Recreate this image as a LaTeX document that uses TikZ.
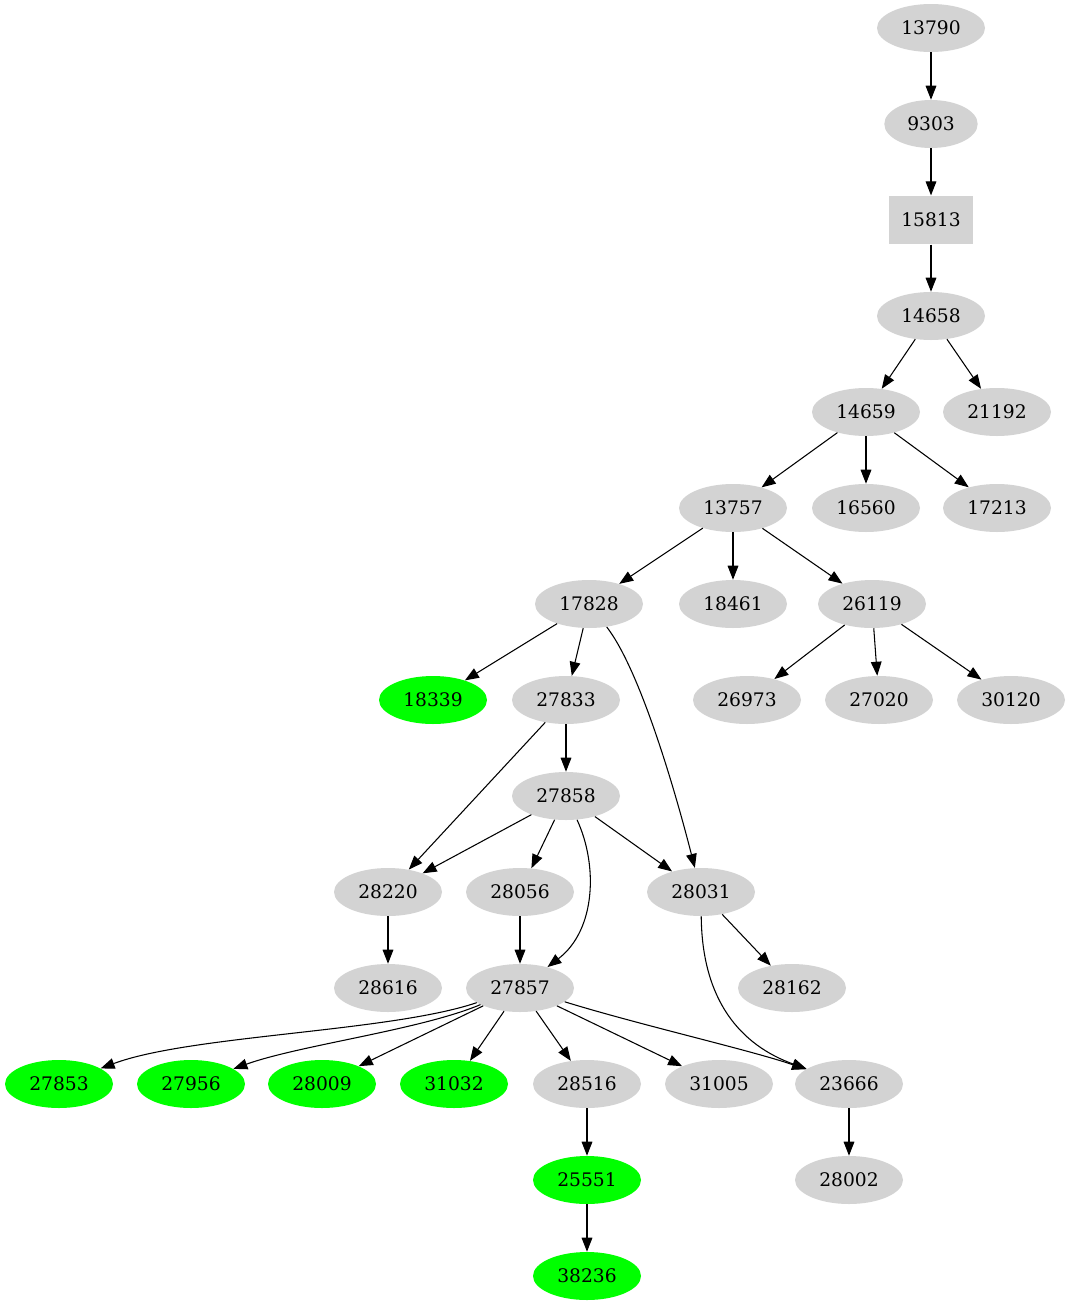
\documentclass[tikz,border=0pt]{standalone}
\usepackage{fontspec}
\setmainfont{DejaVu Serif}
\usetikzlibrary{arrows.meta,shapes.geometric}
\definecolor{nodegray}{HTML}{D3D3D3}
\definecolor{leafgreen}{HTML}{00FF00}
\begin{document}
\begin{tikzpicture}[x=0.75pt,y=-0.75pt,
	gnode/.style={ellipse,fill=nodegray,inner sep=0pt,minimum width=81pt,minimum height=36pt,font=\fontsize{14pt}{16pt}\selectfont},
	leaf/.style={gnode,fill=leafgreen},
	boxnode/.style={rectangle,fill=nodegray,inner sep=0pt,minimum width=63pt,minimum height=36.5pt,font=\fontsize{14pt}{16pt}\selectfont},
	edge/.style={-{Triangle[length=10.5pt,width=8pt]},line width=0.8pt}]
			\useasboundingbox (0,0) rectangle (1070,1307);
			\node[gnode] (n13790) at (931,28) {13790};
			\node[gnode,minimum width=70pt] (n9303) at (931,124) {9303};
			\node[boxnode] (n15813) at (931,220) {15813};
			\node[gnode] (n14658) at (931,316) {14658};
			\node[gnode] (n14659) at (866,412) {14659};
			\node[gnode] (n21192) at (997,412) {21192};
			\node[gnode] (n13757) at (733,508) {13757};
			\node[gnode] (n16560) at (866,508) {16560};
			\node[gnode] (n17213) at (997,508) {17213};
			\node[gnode] (n17828) at (589,604) {17828};
			\node[gnode] (n18461) at (733,604) {18461};
			\node[gnode] (n26119) at (872,604) {26119};
			\node[leaf] (n18339) at (433,700) {18339};
			\node[gnode] (n27833) at (566,700) {27833};
			\node[gnode] (n26973) at (747,700) {26973};
			\node[gnode] (n27020) at (879,700) {27020};
			\node[gnode] (n30120) at (1011,700) {30120};
			\node[gnode] (n27858) at (566,796) {27858};
			\node[gnode] (n28220) at (388,892) {28220};
			\node[gnode] (n28056) at (520,892) {28056};
			\node[gnode] (n28031) at (701,892) {28031};
			\node[gnode] (n28616) at (388,988) {28616};
			\node[gnode] (n27857) at (520,988) {27857};
			\node[gnode] (n28162) at (792,988) {28162};
			\node[leaf] (n27853) at (59,1084) {27853};
			\node[leaf] (n27956) at (191,1084) {27956};
			\node[leaf] (n28009) at (322,1084) {28009};
			\node[leaf] (n31032) at (454,1084) {31032};
			\node[gnode] (n28516) at (587,1084) {28516};
			\node[gnode] (n31005) at (719,1084) {31005};
			\node[gnode] (n23666) at (849,1084) {23666};
			\node[leaf] (n25551) at (587,1180) {25551};
			\node[gnode] (n28002) at (849,1180) {28002};
			\node[leaf] (n38236) at (587,1276) {38236};
			\draw[edge] (n13790) -- (n9303);
			\draw[edge] (n9303) -- (n15813);
			\draw[edge] (n15813) -- (n14658);
			\draw[edge] (n14658) -- (n14659);
			\draw[edge] (n14658) -- (n21192);
			\draw[edge] (n14659) -- (n13757);
			\draw[edge] (n14659) -- (n16560);
			\draw[edge] (n14659) -- (n17213);
			\draw[edge] (n13757) -- (n17828);
			\draw[edge] (n13757) -- (n18461);
			\draw[edge] (n13757) -- (n26119);
			\draw[edge] (n17828) -- (n18339);
			\draw[edge] (n17828) -- (n27833);
			\draw[edge] (n17828) .. controls (640,670) and (675,790) .. (n28031);
			\draw[edge] (n26119) -- (n26973);
			\draw[edge] (n26119) -- (n27020);
			\draw[edge] (n26119) -- (n30120);
			\draw[edge] (n27833) -- (n27858);
			\draw[edge] (n27833) -- (n28220);
			\draw[edge] (n27858) -- (n28220);
			\draw[edge] (n27858) -- (n28056);
			\draw[edge] (n27858) -- (n28031);
			\draw[edge] (n27858) .. controls (598,865) and (596,930) .. (n27857);
			\draw[edge] (n28220) -- (n28616);
			\draw[edge] (n28056) -- (n27857);
			\draw[edge] (n28031) -- (n28162);
			\draw[edge] (n28031) .. controls (702,1000) and (740,1045) .. (n23666);
			\draw[edge] (n27857) .. controls (390,1032) and (190,1035) .. (n27853);
			\draw[edge] (n27857) .. controls (420,1030) and (300,1045) .. (n27956);
			\draw[edge] (n27857) -- (n28009);
			\draw[edge] (n27857) -- (n31032);
			\draw[edge] (n27857) -- (n28516);
			\draw[edge] (n27857) -- (n31005);
			\draw[edge] (n27857) .. controls (640,1025) and (750,1050) .. (n23666);
			\draw[edge] (n28516) -- (n25551);
			\draw[edge] (n23666) -- (n28002);
			\draw[edge] (n25551) -- (n38236);
		\end{tikzpicture}
\end{document}
